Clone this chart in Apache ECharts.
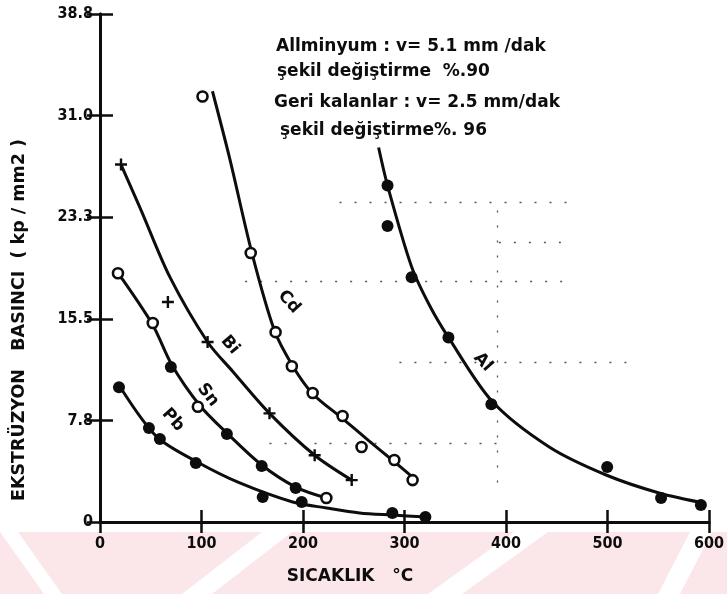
<!DOCTYPE html>
<html>
<head>
<meta charset="utf-8">
<script src="https://cdn.jsdelivr.net/npm/echarts@6/dist/echarts.min.js"></script>
<style>
  html, body { margin: 0; padding: 0; background: #ffffff; }
  #chart { width: 727px; height: 594px; }
</style>
</head>
<body>
<div id="chart"></div>
<script>
// Extrusion pressure (kp/mm2) versus temperature (°C) for several metals.

// Axis ticks
const xTicks = [0, 100, 200, 300, 400, 500, 600];
const yTickLabels = ['0', '7.8', '15.5', '23.3', '31.0', '38.8'];
const yStep = 7.76;

// Measured points  [temperature, pressure]
const cdPoints = [[101, 32.5], [148.5, 20.55], [173, 14.5], [189, 11.9], [209.5, 9.85], [239, 8.1], [257.7, 5.73], [290, 4.74], [308, 3.2]];
const biPoints = [[20.7, 27.3], [66.9, 16.8], [106, 13.75], [167, 8.3], [211.5, 5.1], [248, 3.2]];
const snOpenPoints = [[17.7, 19.0], [52, 15.2], [96.4, 8.8], [223, 1.83]];
const snFilledPoints = [[69.8, 11.84], [125, 6.72], [159.3, 4.28], [192.8, 2.6]];
const pbPoints = [[18.7, 10.3], [48.2, 7.18], [59, 6.34], [94.4, 4.5], [160.3, 1.9], [198.7, 1.53], [288, 0.69], [320.6, 0.38]];
const alPoints = [[283.3, 25.7], [283.3, 22.6], [307, 18.7], [343.3, 14.1], [385.6, 9.0], [499.7, 4.2], [552.8, 1.83], [592, 1.3]];

// Fitted curves  [temperature, pressure]
const cdCurve = [[110.8, 32.9], [128, 27.7], [149.5, 20.6], [172, 14.6], [190, 11.9], [209.5, 9.8], [239, 7.9], [265, 6.2], [290, 4.6], [310, 3.3]];
const biCurve = [[20.7, 27.3], [40, 23.9], [68.9, 18.7], [106, 13.75], [130.8, 11.5], [167, 8.3], [211.5, 5.1], [248, 3.2]];
const snCurve = [[17.7, 18.9], [22.6, 18.5], [52, 15.05], [70.8, 12.0], [98.4, 8.9], [124.9, 6.8], [159.3, 4.35], [192.8, 2.67], [223.3, 1.83]];
const pbCurve = [[21.6, 10.1], [56.1, 6.5], [95.4, 4.6], [137.7, 2.98], [189.8, 1.53], [223.3, 1.07], [255.7, 0.69], [288.2, 0.53], [321.6, 0.38]];
const alCurve = [[274.5, 28.6], [283.3, 25.7], [307, 19.5], [325, 16.5], [343.3, 14.1], [386.5, 9.2], [442.6, 5.73], [498.7, 3.59], [550.8, 2.22], [597, 1.42]];

// Faint dotted guide lines of the paper  [x1, x2, y]
const guideRows = [[236, 467, 24.4], [143, 467, 18.4], [295, 521, 12.2], [167, 393, 6.0], [393, 467, 21.4]];

const FONT = "'DejaVu Sans', sans-serif";
const FONT_COND = "'DejaVu Sans Condensed', 'DejaVu Sans', sans-serif";
const INK = '#0d0d0d';

const chart = echarts.init(document.getElementById('chart'), null, { renderer: 'canvas' });

const plusSymbol = 'path://M4,0H6V4H10V6H6V10H4V6H0V4H4Z';

function curveSeries(name, data, extra) {
  return Object.assign({
    name: name,
    type: 'line',
    data: data,
    smooth: 0.3,
    showSymbol: false,
    symbol: 'none',
    lineStyle: { color: INK, width: 3 },
    silent: true,
    z: 3
  }, extra || {});
}

function pointSeries(name, data, symbol, size, filled) {
  return {
    name: name,
    type: 'scatter',
    data: data,
    symbol: symbol,
    symbolSize: size,
    itemStyle: filled
      ? { color: INK, borderColor: INK, borderWidth: 0, opacity: 1 }
      : { color: '#ffffff', borderColor: INK, borderWidth: 2.6, opacity: 1 },
    z: 5
  };
}

function curveLabel(text, x, y, deg) {
  return {
    type: 'text',
    x: x, y: y,
    rotation: -deg * Math.PI / 180,
    style: { text: text, fill: INK, font: 'bold 17px ' + FONT, align: 'center', verticalAlign: 'middle' },
    z: 10
  };
}

const noteLines = [
  'Allminyum : v= 5.1 mm /dak',
  'şekil değiştirme  %.90',
  'Geri kalanlar : v= 2.5 mm/dak',
  'şekil değiştirme%. 96'
];
const noteY = [47, 72, 103, 131];
const noteX = [276, 277, 274, 280];

const graphics = [];

// Pale striped band at the foot of the page
graphics.push({
  type: 'rect', shape: { x: 0, y: 532, width: 727, height: 62 },
  style: { fill: '#fbe6ea' }, z: -10, silent: true
});
[[0, 532, 18, 532, 62, 594, 44, 594],
 [262, 532, 292, 532, 212, 594, 182, 594],
 [514, 532, 548, 532, 462, 594, 428, 594],
 [690, 532, 712, 532, 680, 594, 658, 594]].forEach(p => {
  graphics.push({
    type: 'polygon',
    shape: { points: [[p[0], p[1]], [p[2], p[3]], [p[4], p[5]], [p[6], p[7]]] },
    style: { fill: '#ffffff' }, z: -9, silent: true
  });
});

noteLines.forEach((t, i) => {
  graphics.push({
    type: 'text', x: noteX[i], y: noteY[i],
    style: { text: t, fill: INK, font: 'bold 17px ' + FONT, align: 'left', verticalAlign: 'middle' },
    z: 10
  });
});

// Axis titles
graphics.push({
  type: 'text', x: 19, y: 320, rotation: Math.PI / 2,
  style: { text: 'EKSTRÜZYON   BASINCI  ( kp / mm2 )', fill: INK, font: 'bold 17.5px ' + FONT, align: 'center', verticalAlign: 'middle' },
  z: 10
});
graphics.push({
  type: 'text', x: 350, y: 577,
  style: { text: 'SICAKLIK   °C', fill: INK, font: 'bold 17px ' + FONT, align: 'center', verticalAlign: 'middle' },
  z: 10
});

// Curve names
graphics.push(curveLabel('Cd', 289, 302, 48));
graphics.push(curveLabel('Bi', 230, 345, 50));
graphics.push(curveLabel('Sn', 208, 395, 52));
graphics.push(curveLabel('Pb', 173, 420, 48));
graphics.push(curveLabel('Al', 483, 362, 48));

const guideLines = guideRows.map(r => [{ coord: [r[0], r[2]] }, { coord: [r[1], r[2]] }]);
guideLines.push([{ coord: [391.5, 23.8] }, { coord: [391.5, 2.4] }]);

const axisLabelStyle = { color: INK, fontFamily: FONT_COND, fontWeight: 'bold', fontSize: 16 };

const option = {
  backgroundColor: '#ffffff',
  animation: false,
  grid: { left: 100, right: 17, top: 14, bottom: 72, containLabel: false },
  xAxis: [{
    type: 'value', min: 0, max: 600, interval: 100, position: 'bottom',
    axisLine: { show: true, lineStyle: { color: INK, width: 3 } },
    axisTick: { show: true, inside: true, length: 12, lineStyle: { color: INK, width: 2.5 } },
    axisLabel: Object.assign({ margin: 14, formatter: v => String(v) }, axisLabelStyle),
    splitLine: { show: false }
  }, {
    type: 'value', min: 0, max: 600, interval: 100, position: 'top',
    axisLine: { show: true, lineStyle: { color: INK, width: 3 } },
    axisTick: { show: true, inside: true, length: 11, lineStyle: { color: INK, width: 2.5 } },
    axisLabel: { show: false },
    splitLine: { show: false }
  }],
  yAxis: [{
    type: 'value', min: 0, max: 38.8, interval: yStep, position: 'left',
    axisLine: { show: true, lineStyle: { color: INK, width: 3 } },
    axisTick: { show: true, inside: true, length: 13, lineStyle: { color: INK, width: 2.5 } },
    axisLabel: Object.assign({
      margin: 7,
      formatter: v => yTickLabels[Math.round(v / yStep)] || ''
    }, axisLabelStyle),
    splitLine: { show: false }
  }, {
    type: 'value', min: 0, max: 38.8, interval: yStep, position: 'right',
    axisLine: { show: true, lineStyle: { color: INK, width: 3 } },
    axisTick: { show: true, inside: true, length: 13, lineStyle: { color: INK, width: 2.5 } },
    axisLabel: { show: false },
    splitLine: { show: false }
  }],
  graphic: graphics,
  series: [
    curveSeries('Cd', cdCurve),
    curveSeries('Bi', biCurve),
    curveSeries('Sn', snCurve),
    curveSeries('Pb', pbCurve),
    curveSeries('Al', alCurve, {
      markLine: {
        silent: true, symbol: 'none', label: { show: false },
        lineStyle: { color: '#555', width: 1.3, type: [2, 13] },
        data: guideLines, z: 1
      }
    }),
    pointSeries('Cd', cdPoints, 'circle', 10, false),
    pointSeries('Bi', biPoints, plusSymbol, 12, true),
    pointSeries('Sn', snOpenPoints, 'circle', 10, false),
    pointSeries('Sn', snFilledPoints, 'circle', 12, true),
    pointSeries('Pb', pbPoints, 'circle', 12, true),
    pointSeries('Al', alPoints, 'circle', 12, true)
  ]
};

chart.setOption(option);
</script>
</body>
</html>
